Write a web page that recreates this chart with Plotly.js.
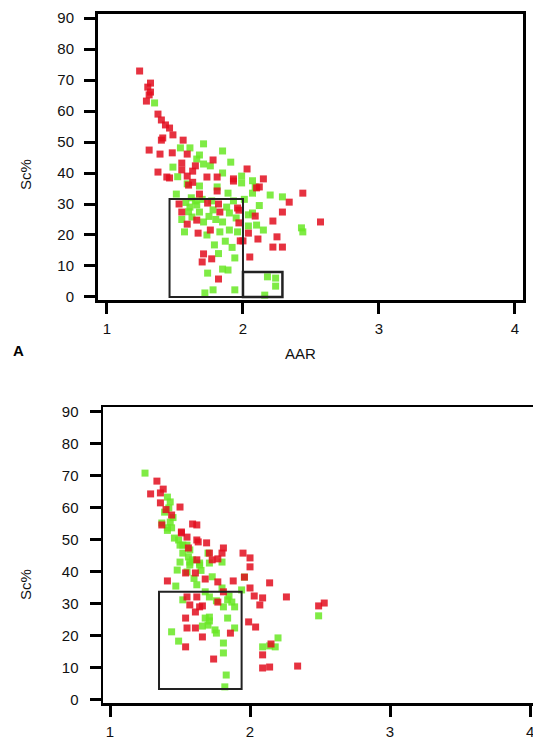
<!DOCTYPE html>
<html>
<head>
<meta charset="utf-8">
<script src="https://cdn.plot.ly/plotly-3.0.1.min.js"></script>
<style>
  html, body { margin: 0; padding: 0; background: #ffffff; }
  #chart { width: 533px; height: 738px; }
</style>
</head>
<body>
<div id="chart"></div>
<script>
// Panel A: AAR vs Sc%, red and green groups
const topRedAAR = [1.24,1.32,1.30,1.32,1.31,1.29,1.375,1.40,1.43,1.46,1.485,1.41,1.40,1.56,1.31,1.39,1.48,1.59,1.78,1.55,1.65,1.375,1.55,1.44,1.46,1.59,1.63,1.735,1.81,2.03,2.15,1.93,1.60,1.68,1.81,1.93,2.12,2.44,2.34,2.29,2.22,2.25,2.22,2.29,2.05,1.53,1.55,1.74,1.82,1.83,1.96,1.97,1.59,1.66,1.67,1.76,1.98,2.00,2.04,2.09,2.11,1.71,1.70,1.77,1.82,2.57,2.10,1.97,1.63];
const topRedSc  = [72.9,69.0,67.7,66.1,65.2,63.2,59.0,57.1,55.5,54.5,52.3,51.3,50.6,50.6,47.4,46.1,46.5,46.1,44.2,43.2,42.3,40.3,41.0,38.7,38.4,39.0,40.6,38.7,38.7,41.3,38.1,38.1,36.1,33.2,34.2,37.4,35.5,33.5,30.6,27.4,24.5,19.4,16.1,16.1,12.9,30.0,27.4,30.3,30.0,27.4,28.7,23.9,23.5,24.8,20.6,21.6,18.1,18.1,20.6,26.1,18.7,13.9,11.3,12.3,5.8,24.2,35.2,28.0,37.0];

const topGreenAAR = [1.35,1.54,1.61,1.71,1.85,1.68,1.71,1.76,1.85,1.99,1.485,1.59,1.68,2.07,1.51,1.61,1.66,1.68,1.625,1.71,1.78,1.88,1.90,1.85,1.83,1.90,1.96,1.57,1.735,1.79,1.94,1.89,1.85,1.74,1.78,1.94,2.10,2.15,2.04,2.04,2.07,2.20,2.29,2.43,2.44,2.18,2.24,2.24,2.16,1.99,2.09,2.07,1.81,1.89,1.72,1.65,1.58,1.62,1.70,1.75,1.80,1.93,1.95,1.60,1.87,1.82,1.92,1.77,1.52,1.66,2.01,2.12,1.55,1.91];
const topGreenSc  = [62.6,48.1,48.1,49.4,47.1,45.8,42.9,42.3,40.0,39.0,41.9,36.5,35.8,37.5,33.2,29.0,29.7,27.4,25.8,24.2,28.1,29.0,27.1,24.2,21.0,21.6,21.0,21.0,20.0,16.8,12.6,8.7,9.0,7.7,2.3,2.3,23.2,21.6,22.9,26.5,27.1,32.9,32.3,22.3,21.0,6.5,6.1,3.5,0.6,36.8,35.5,33.5,35.5,33.5,1.3,31.0,30.5,32.0,31.5,26.0,25.0,31.0,25.5,27.5,18.0,14.0,16.0,31.0,38.8,44.5,31.5,29.5,25.0,43.5];

// Panel B: same measures for the second set
const botRedAAR = [1.335,1.38,1.29,1.36,1.36,1.50,1.44,1.37,1.59,1.62,1.51,1.55,1.62,1.69,1.56,1.81,1.95,2.00,2.00,1.71,1.73,1.77,1.80,1.62,1.63,1.41,1.54,1.61,1.68,1.77,1.88,1.96,2.14,2.00,2.03,2.09,2.07,2.26,2.49,2.53,1.55,1.62,1.57,1.64,1.66,1.61,1.81,1.77,1.54,1.55,1.61,1.66,1.54,1.74,1.99,2.04,2.15,2.09,2.09,2.14,2.34,1.86,1.51,1.40];
const botRedSc  = [68.4,65.9,64.4,64.7,61.6,60.3,57.8,54.7,55.0,54.7,52.5,50.9,50.0,49.1,47.5,47.5,45.9,44.4,41.6,45.9,43.8,44.1,45.9,43.8,49.4,37.2,39.7,39.7,37.8,36.9,37.2,38.4,36.6,35.0,32.5,31.9,29.7,32.2,29.4,30.3,32.2,32.2,29.7,29.1,29.4,27.5,33.8,30.6,25.6,22.5,22.5,19.7,16.6,12.8,24.4,22.8,17.5,14.1,10.0,10.3,10.6,20.9,52.2,59.5];

const botGreenAAR = [1.25,1.41,1.43,1.39,1.43,1.41,1.46,1.52,1.56,1.57,1.64,1.55,1.44,1.49,1.68,1.71,1.70,1.75,1.76,1.84,1.89,1.81,1.81,1.83,1.82,1.57,1.64,1.71,1.50,1.52,1.57,1.55,1.70,1.80,1.48,1.96,1.94,1.84,1.87,1.89,1.81,1.68,1.71,1.52,2.09,2.14,2.20,2.18,1.47,1.66,1.71,1.41,1.44,1.37,1.49,1.50,1.59,2.49,1.76,1.85,1.65,1.60,1.45,1.42,1.73,1.80,1.62];
const botGreenSc  = [70.9,63.4,61.9,58.7,55.6,53.8,50.6,48.4,44.7,42.2,42.2,40.0,21.3,18.4,25.6,25.9,23.4,21.9,20.9,25.6,22.5,17.8,14.7,7.8,4.1,43.1,42.8,42.8,43.1,45.9,46.9,48.4,45.9,43.1,40.6,38.4,34.4,31.3,30.6,29.1,29.1,33.8,32.2,31.3,16.6,16.9,19.4,16.6,35.6,23.1,24.7,53.0,53.8,55.3,50.0,48.4,43.8,26.3,31.0,32.5,40.5,38.0,57.0,60.0,38.5,35.0,36.0];

// Highlighted regions [x0, x1, y0, y1]
const topBoxes = [[1.46, 2.0, 0, 31.6], [2.0, 2.29, 0, 8.1]];
const botBoxes = [[1.35, 1.94, 3.4, 33.8]];

const xTicks = [1, 2, 3, 4];
const yTicks = [0, 10, 20, 30, 40, 50, 60, 70, 80, 90];

const RED = 'rgb(226,14,30)';
const GREEN = 'rgb(104,232,36)';
const FONT = 'Liberation Sans, Arial, sans-serif';

function pts(x, y, color, xa, ya) {
  return {
    x: x, y: y, type: 'scatter', mode: 'markers',
    xaxis: xa, yaxis: ya, hoverinfo: 'skip', showlegend: false,
    marker: { symbol: 'square', size: 7, color: color, opacity: 0.85, line: { width: 0 } }
  };
}

const traces = [
  pts(topGreenAAR, topGreenSc, GREEN, 'x', 'y'),
  pts(topRedAAR, topRedSc, RED, 'x', 'y'),
  pts(botGreenAAR, botGreenSc, GREEN, 'x2', 'y2'),
  pts(botRedAAR, botRedSc, RED, 'x2', 'y2')
];

function axis(extra) {
  return Object.assign({
    showgrid: false, zeroline: false, showline: true,
    linecolor: '#000', linewidth: 3,
    ticks: 'outside', ticklen: 11, tickwidth: 3, tickcolor: '#000',
    tickmode: 'array', ticklabeloverflow: 'allow',
    tickfont: { family: FONT, size: 15, color: '#111' },
    fixedrange: true
  }, extra);
}

function boxShapes(boxes, xr, yr) {
  return boxes.map(function (b, i) {
    return {
      type: 'rect', xref: xr, yref: yr,
      x0: b[0], x1: b[1], y0: b[2], y1: b[3],
      line: { color: '#222', width: i === 0 ? 2 : 2.5 },
      fillcolor: 'rgba(0,0,0,0)', layer: 'above'
    };
  });
}

function paperText(text, px, py, opts) {
  return Object.assign({
    text: text, xref: 'paper', yref: 'paper',
    x: px / 533, y: 1 - py / 738,
    xanchor: 'center', yanchor: 'middle', showarrow: false,
    font: { family: FONT, size: 15, color: '#111' }
  }, opts || {});
}

const layout = {
  width: 533, height: 738,
  margin: { l: 0, r: 0, t: 0, b: 0 },
  paper_bgcolor: '#ffffff', plot_bgcolor: '#ffffff',
  showlegend: false,
  xaxis: axis({
    domain: [98 / 533, 523 / 533], range: [0.934, 4.059],
    tickvals: xTicks, ticktext: xTicks.map(String),
    mirror: true, anchor: 'y', ticklabelstandoff: 2
  }),
  yaxis: axis({
    domain: [(738 - 300) / 738, (738 - 14) / 738], range: [-0.97, 91.29],
    tickvals: yTicks, ticktext: yTicks.map(String),
    mirror: true, anchor: 'x', ticklabelstandoff: 7
  }),
  xaxis2: axis({
    domain: [103 / 533, 1], range: [0.95, 4.021],
    tickvals: xTicks, ticktext: xTicks.map(String),
    mirror: true, anchor: 'y2', linewidth: 2.5, ticklabelstandoff: 2
  }),
  yaxis2: axis({
    domain: [35 / 738, (738 - 407) / 738], range: [-0.94, 91.56],
    tickvals: yTicks, ticktext: yTicks.map(String),
    mirror: false, anchor: 'x2', linewidth: 2.5, ticklabelstandoff: 8
  }),
  shapes: boxShapes(topBoxes, 'x', 'y').concat(boxShapes(botBoxes, 'x2', 'y2')),
  annotations: [
    paperText('Sc%', 25, 175, { textangle: -90 }),
    paperText('Sc%', 25, 585, { textangle: -90 }),
    paperText('AAR', 300, 353),
    paperText('<b>A</b>', 18, 350, { font: { family: FONT, size: 15, color: '#000' } })
  ]
};

Plotly.newPlot('chart', traces, layout, { displayModeBar: false, staticPlot: true });
</script>
</body>
</html>
